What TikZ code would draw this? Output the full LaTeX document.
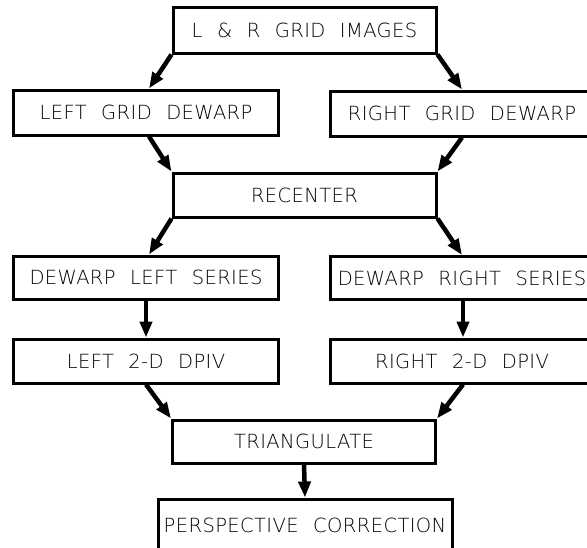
\documentclass[tikz,border=0pt]{standalone}
\usepackage{fontspec}
\usetikzlibrary{arrows.meta}
\newfontfamily\plotfont[LetterSpace=2,WordSpace=2.2]{DejaVu Sans ExtraLight}
\tikzset{
  stagebox/.style={draw, line width=3pt, rectangle, inner sep=0pt,
    font=\plotfont\fontsize{19.5}{22}\selectfont},
  % right-hand column runs past the edge; pad the label so it stays centred at x=462
  rightbox/.style={stagebox, minimum width=272, execute at end node={\hspace{8pt}}},
  flow/.style={line width=4.5pt, -{Triangle[length=16pt,width=12pt]}},
}
\begin{document}
\begin{tikzpicture}[x=1pt,y=-1pt]
\clip (0,0) rectangle (587,547);
\fill[white] (0,0) rectangle (587,547);

% processing stages
\node[stagebox, minimum width=263, minimum height=46] (imgs)  at (304.5,30)  {L \& R GRID IMAGES};
\node[stagebox, minimum width=265, minimum height=45] (lgrid) at (146,112.5) {LEFT GRID DEWARP};
\node[rightbox, minimum height=45] (rgrid) at (466,113.5) {RIGHT GRID DEWARP};
\node[stagebox, minimum width=263, minimum height=44] (recen) at (304.5,195) {RECENTER};
\node[stagebox, minimum width=265, minimum height=43] (lser)  at (146,277.5) {DEWARP LEFT SERIES};
\node[rightbox, minimum height=43] (rser)  at (466,278)   {DEWARP RIGHT SERIES};
\node[stagebox, minimum width=265, minimum height=44] (ldpiv) at (146,361)   {LEFT 2-D DPIV};
\node[rightbox, minimum height=44] (rdpiv) at (466,361)   {RIGHT 2-D DPIV};
\node[stagebox, minimum width=263, minimum height=43] (tri)   at (304,441.5) {TRIANGULATE};
% last stage sits on the lower edge
\node[stagebox, minimum width=294, minimum height=52] (persp) at (305,525)   {PERSPECTIVE CORRECTION};

% data flow
\draw[flow] (imgs.south west) -- ([xshift=3]lgrid.north);
\draw[flow] (imgs.south east) -- ([xshift=-4]rgrid.north);
\draw[flow] ([xshift=3]lgrid.south) -- (recen.north west);
\draw[flow] ([xshift=-4]rgrid.south) -- (recen.north east);
\draw[flow] (recen.south west) -- ([xshift=3]lser.north);
\draw[flow] (recen.south east) -- ([xshift=-4]rser.north);
\draw[flow] (lser.south) -- (ldpiv.north);
\draw[flow] ([xshift=-3]rser.south) -- ([xshift=-3]rdpiv.north);
\draw[flow] (ldpiv.south) -- (tri.north west);
\draw[flow] ([xshift=-3]rdpiv.south) -- (tri.north east);
\draw[flow] (tri.south) -- (persp.north);
\end{tikzpicture}
\end{document}
